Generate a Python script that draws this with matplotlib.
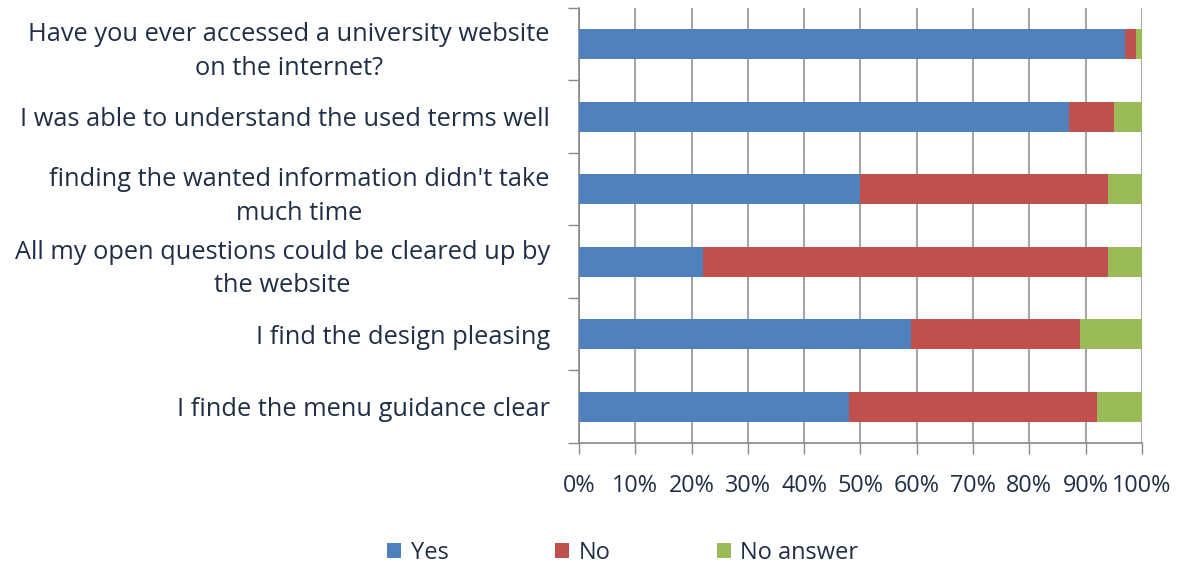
import numpy as np
import matplotlib
matplotlib.use('Agg')
import matplotlib.pyplot as plt
from matplotlib.ticker import FixedLocator, PercentFormatter

# Survey questions, top to bottom
questions = [
    "Have you ever accessed a university website\non the internet?",
    "I was able to understand the used terms well",
    "finding the wanted information didn't take\nmuch time",
    "All my open questions could be cleared up by\nthe website",
    "I find the design pleasing",
    "I finde the menu guidance clear",
]

# Share of answers in percent
yes = [97, 87, 50, 22, 59, 48]
no = [2, 8, 44, 72, 30, 44]
no_answer = [1, 5, 6, 6, 11, 8]

series_names = ["Yes", "No", "No answer"]
colors = ["#4f81bd", "#c0504d", "#9bbb59"]
text_color = "#1f2f45"

plt.rcParams['font.family'] = ['Open Sans', 'DejaVu Sans']

fig = plt.figure(figsize=(11.84, 5.65), dpi=100)
ax = fig.add_axes([0.489, 0.216, 0.4755, 0.77])

y = np.arange(len(questions))[::-1]
left = np.zeros(len(questions))
for name, vals, c in zip(series_names, [yes, no, no_answer], colors):
    ax.barh(y, vals, left=left, height=0.41, color=c, label=name, zorder=3)
    left = left + np.array(vals)

ax.set_xlim(0, 100)
ax.set_ylim(-0.5, len(questions) - 0.5)
ax.set_xticks(np.arange(0, 101, 10))
ax.xaxis.set_major_formatter(PercentFormatter(100, decimals=0))
ax.set_yticks(y)
ax.set_yticklabels(questions, multialignment='center', linespacing=1.45)
ax.yaxis.set_minor_locator(FixedLocator(np.arange(-0.5, len(questions), 1)))

ax.tick_params(axis='y', which='major', length=0, pad=21, labelsize=18.3, colors=text_color)
ax.tick_params(axis='y', which='minor', length=8, color='#888888', width=1)
ax.tick_params(axis='x', length=8, color='#888888', width=1, pad=14, labelsize=16.8, colors=text_color)

ax.grid(axis='x', color='#a6a6a6', linewidth=1.5, zorder=0)
for side in ['top', 'right']:
    ax.spines[side].set_visible(False)
for side in ['left', 'bottom']:
    ax.spines[side].set_color('#888888')
    ax.spines[side].set_linewidth(1.2)

leg = fig.legend(loc='lower center', bbox_to_anchor=(0.526, -0.037), ncol=3, frameon=False,
                 fontsize=17, handlelength=0.6, handleheight=0.6, handletextpad=0.4,
                 columnspacing=4.5)
for t in leg.get_texts():
    t.set_color(text_color)

fig.savefig('out.png', dpi=100)
